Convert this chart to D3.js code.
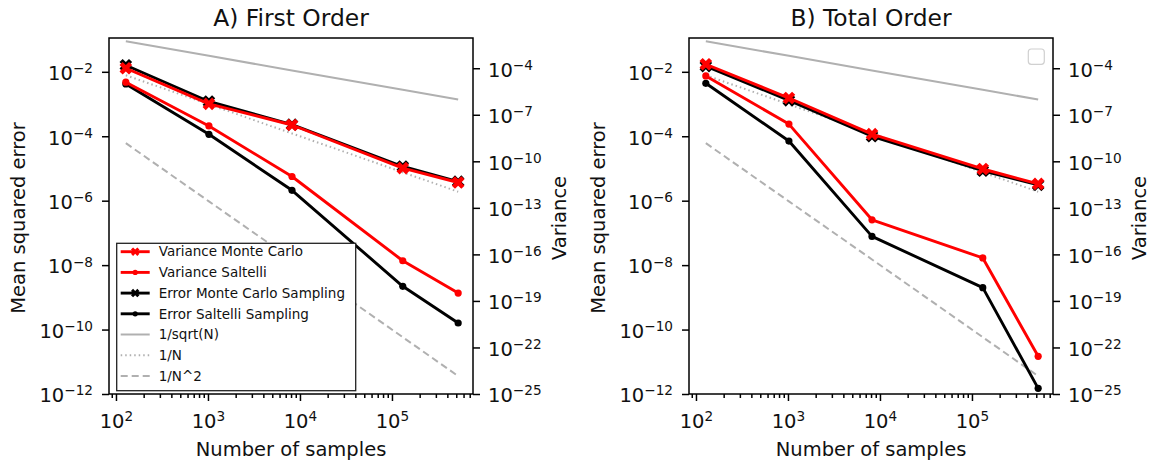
<!DOCTYPE html>
<html>
<head>
<meta charset="utf-8">
<script src="https://cdn.jsdelivr.net/npm/d3@7"></script>
<style>
  body { margin: 0; background: #fff; }
  svg { font-family: "DejaVu Sans", sans-serif; }
</style>
</head>
<body>
<script>
// sample sizes shared by both panels
var samples = [128, 1024, 8192, 131072, 524288];

// A) First Order
var firstErrMC = [1.6e-2, 1.2e-3, 2.3e-4, 1.15e-5, 3.9e-6];
var firstErrSaltelli = [4.2e-3, 1.15e-4, 2.1e-6, 2.2e-9, 1.6e-10];
var firstVarMC = [1.0e-4, 5.0e-7, 2.2e-8, 3.6e-11, 4.3e-12];
var firstVarSaltelli = [1.26e-5, 1.9e-8, 1.05e-11, 3.9e-17, 3.2e-19];

// B) Total Order
var totalErrMC = [1.5e-2, 1.3e-3, 1.0e-4, 8.5e-6, 3.1e-6];
var totalErrSaltelli = [4.4e-3, 7.1e-5, 7.8e-8, 2.0e-9, 1.5e-12];
var totalVarMC = [1.8e-4, 1.2e-6, 5.6e-9, 3.2e-11, 3.5e-12];
var totalVarSaltelli = [3.2e-5, 2.5e-8, 1.7e-14, 5.9e-17, 2.7e-23];

// reference slopes
var refSqrt = [8.84e-2, 3.13e-2, 1.10e-2, 2.76e-3, 1.38e-3];
var refInv = [7.8e-3, 9.8e-4, 1.22e-4, 7.6e-6, 1.9e-6];
var refInvSq = [6.1e-5, 9.5e-7, 1.5e-8, 5.8e-11, 3.6e-12];

var titles = ["A) First Order", "B) Total Order"];
var xTicks = [1e2, 1e3, 1e4, 1e5];
var errTicks = [1e-12, 1e-10, 1e-8, 1e-6, 1e-4, 1e-2];
var varTicks = [1e-25, 1e-22, 1e-19, 1e-16, 1e-13, 1e-10, 1e-7, 1e-4];
var legendLabels = ["Variance Monte Carlo", "Variance Saltelli", "Error Monte Carlo Sampling",
                    "Error Saltelli Sampling", "1/sqrt(N)", "1/N", "1/N^2"];

var width = 1152,
    height = 466,
    pw = 364,
    ph = 356,
    top0 = 38,
    lefts = [109, 689];

var fs = 19.5;

var svg = d3.select("body").append("svg")
    .attr("width", width)
    .attr("height", height);

var x = d3.scaleLog().domain([84, 7.6e5]).range([0, pw]);
var yErr = d3.scaleLog().domain([1e-12, 0.112]).range([ph, 0]);
var yVar = d3.scaleLog().domain([1e-25, 8.9e-3]).range([ph, 0]);

var minorTicks = [];
[10, 100, 1000, 10000, 100000].forEach(function(dec) {
  for (var k = 2; k <= 9; k++) {
    var v = k * dec;
    if (v >= x.domain()[0] && v <= x.domain()[1]) minorTicks.push(v);
  }
});

function powLabel(text) {
  text.each(function(d) {
    var t = d3.select(this);
    var e = Math.round(Math.log10(d));
    t.text("10");
    t.append("tspan")
        .attr("dy", "-0.5em")
        .attr("font-size", (fs * 0.7) + "px")
        .text(e < 0 ? "\u2212" + (-e) : e);
  });
}

var xSym = d3.symbol().type(d3.symbolCross).size(100);
var xSymSmall = d3.symbol().type(d3.symbolCross).size(45);

function drawSeries(g, values, yScale, color, marker) {
  var line = d3.line()
      .x(function(d, i) { return x(samples[i]); })
      .y(function(d) { return yScale(d); });

  g.append("path")
      .datum(values)
      .attr("d", line)
      .attr("fill", "none")
      .attr("stroke", color)
      .attr("stroke-width", 2.9)
      .attr("stroke-linejoin", "round");

  var pts = g.selectAll(null)
      .data(values)
    .enter();

  if (marker == "X") {
    pts.append("path")
        .attr("d", xSym)
        .attr("transform", function(d, i) {
          return "translate(" + x(samples[i]) + "," + yScale(d) + ") rotate(45)";
        })
        .attr("fill", color);
  } else {
    pts.append("circle")
        .attr("cx", function(d, i) { return x(samples[i]); })
        .attr("cy", function(d) { return yScale(d); })
        .attr("r", 3.6)
        .attr("fill", color);
  }
}

function drawRef(g, values, dash) {
  var line = d3.line()
      .x(function(d, i) { return x(samples[i]); })
      .y(function(d) { return yErr(d); });

  g.append("path")
      .datum(values)
      .attr("d", line)
      .attr("fill", "none")
      .attr("stroke", "#b0b0b0")
      .attr("stroke-width", 2)
      .attr("stroke-dasharray", dash);
}

function drawPanel(p, errMC, errSal, varMC, varSal) {
  var g = svg.append("g")
      .attr("transform", "translate(" + lefts[p] + "," + top0 + ")");

  // reference lines, left axis
  drawRef(g, refSqrt, null);
  drawRef(g, refInv, "1.5,3");
  drawRef(g, refInvSq, "7,4");

  // errors on left axis, variances on the twin axis
  drawSeries(g, errMC, yErr, "#000", "X");
  drawSeries(g, errSal, yErr, "#000", "o");
  drawSeries(g, varMC, yVar, "#ff0000", "X");
  drawSeries(g, varSal, yVar, "#ff0000", "o");

  // axes
  var xAxis = g.append("g")
      .attr("transform", "translate(0," + ph + ")")
      .call(d3.axisBottom(x).tickValues(xTicks).tickSize(7).tickSizeOuter(0));
  xAxis.selectAll("text").attr("y", 34).attr("dy", 0).call(powLabel);

  g.append("g")
      .attr("transform", "translate(0," + ph + ")")
      .call(d3.axisBottom(x).tickValues(minorTicks).tickSize(4).tickSizeOuter(0).tickFormat(""));

  var yAxisL = g.append("g")
      .call(d3.axisLeft(yErr).tickValues(errTicks).tickSize(7).tickSizeOuter(0));
  yAxisL.selectAll("text").attr("x", -16).attr("dy", "0.4em").call(powLabel);

  var yAxisR = g.append("g")
      .attr("transform", "translate(" + pw + ",0)")
      .call(d3.axisRight(yVar).tickValues(varTicks).tickSize(7).tickSizeOuter(0));
  yAxisR.selectAll("text").attr("x", 15).attr("dy", "0.4em").call(powLabel);

  g.selectAll(".domain").remove();
  g.selectAll(".tick line").attr("stroke", "#000").attr("stroke-width", 1.5);
  g.selectAll(".tick text")
      .attr("font-family", "DejaVu Sans")
      .attr("font-size", fs + "px")
      .attr("fill", "#111");

  g.append("rect")
      .attr("width", pw)
      .attr("height", ph)
      .attr("fill", "none")
      .attr("stroke", "#000")
      .attr("stroke-width", 1.5);

  // labels
  g.append("text")
      .attr("x", pw / 2)
      .attr("y", 26 - top0)
      .attr("text-anchor", "middle")
      .attr("font-size", (fs * 1.2) + "px")
      .attr("fill", "#111")
      .text(titles[p]);

  g.append("text")
      .attr("x", pw / 2)
      .attr("y", 456 - top0)
      .attr("text-anchor", "middle")
      .attr("font-size", fs + "px")
      .attr("fill", "#111")
      .text("Number of samples");

  g.append("text")
      .attr("transform", "translate(-90.5," + (ph / 2 + 2) + ") rotate(-90)")
      .attr("dy", "0.35em")
      .attr("text-anchor", "middle")
      .attr("font-size", fs + "px")
      .attr("fill", "#111")
      .text("Mean squared error");

  g.append("text")
      .attr("transform", "translate(" + (pw + 86.5) + "," + (ph / 2 + 2) + ") rotate(-90)")
      .attr("dy", "0.35em")
      .attr("text-anchor", "middle")
      .attr("font-size", fs + "px")
      .attr("fill", "#111")
      .text("Variance");

  return g;
}

var gA = drawPanel(0, firstErrMC, firstErrSaltelli, firstVarMC, firstVarSaltelli);
var gB = drawPanel(1, totalErrMC, totalErrSaltelli, totalVarMC, totalVarSaltelli);

// legend in panel A
var leg = gA.append("g")
    .attr("transform", "translate(7.7," + (243.3 - top0) + ")");

leg.append("rect")
    .attr("width", 239)
    .attr("height", 147.4)
    .attr("fill", "#fff")
    .attr("stroke", "#222")
    .attr("stroke-width", 1.3);

var legStyle = [
  {color: "#ff0000", marker: "X", dash: null, w: 2.9},
  {color: "#ff0000", marker: "o", dash: null, w: 2.9},
  {color: "#000", marker: "X", dash: null, w: 2.9},
  {color: "#000", marker: "o", dash: null, w: 2.9},
  {color: "#b0b0b0", marker: null, dash: null, w: 2},
  {color: "#b0b0b0", marker: null, dash: "1.5,3", w: 2},
  {color: "#b0b0b0", marker: null, dash: "7,4", w: 2}
];

var rows = leg.selectAll(".row")
    .data(legendLabels)
  .enter().append("g")
    .attr("class", "row")
    .attr("transform", function(d, i) { return "translate(0," + (8.4 + i * 20.7) + ")"; });

rows.append("line")
    .attr("x1", 4).attr("x2", 33)
    .attr("stroke", function(d, i) { return legStyle[i].color; })
    .attr("stroke-width", function(d, i) { return legStyle[i].w; })
    .attr("stroke-dasharray", function(d, i) { return legStyle[i].dash; });

rows.filter(function(d, i) { return legStyle[i].marker == "X"; })
  .append("path")
    .attr("d", xSymSmall)
    .attr("transform", "translate(18.5,0) rotate(45)")
    .attr("fill", function(d, i) { return legendLabels.indexOf(d) == 0 ? "#ff0000" : "#000"; });

rows.filter(function(d, i) { return legStyle[i].marker == "o"; })
  .append("circle")
    .attr("cx", 18.5)
    .attr("r", 2.6)
    .attr("fill", function(d) { return legendLabels.indexOf(d) == 1 ? "#ff0000" : "#000"; });

rows.append("text")
    .attr("x", 42)
    .attr("dy", "0.35em")
    .attr("font-size", "13.5px")
    .attr("fill", "#111")
    .text(function(d) { return d; });

// empty legend box in panel B
gB.append("rect")
    .attr("x", 339.3)
    .attr("y", 49 - top0)
    .attr("width", 16)
    .attr("height", 15.3)
    .attr("rx", 3)
    .attr("fill", "#fff")
    .attr("stroke", "#d0d0d0")
    .attr("stroke-width", 1.2);
</script>
</body>
</html>
